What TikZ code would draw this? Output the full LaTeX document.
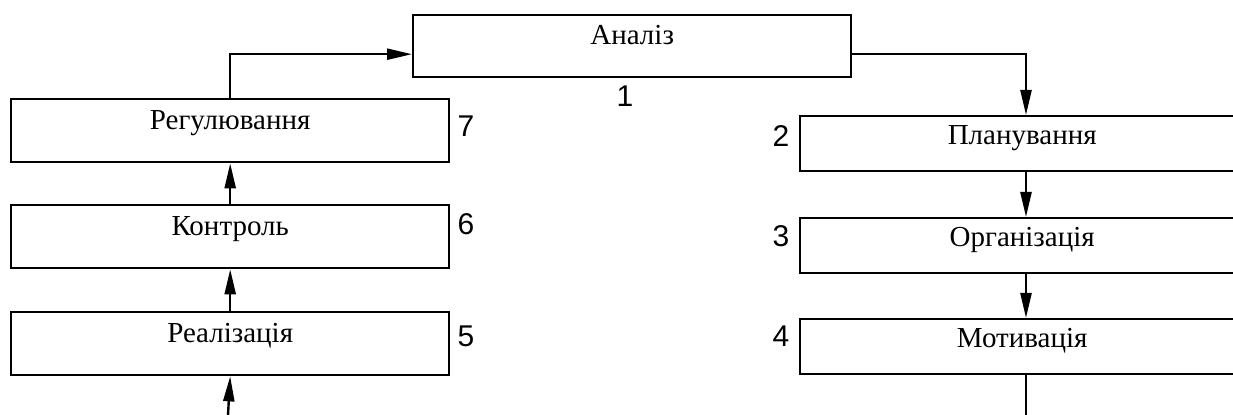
\documentclass[tikz,border=0pt]{standalone}
\usepackage{fontspec}
\setmainfont{Liberation Serif}
\newfontfamily\numfont{Liberation Sans}
\usetikzlibrary{arrows.meta,calc}
\begin{document}
\begin{tikzpicture}[x=0.5pt,y=-0.5pt,
  box/.style={draw,line width=1.2pt,anchor=north west,inner xsep=0pt,inner ysep=0pt,
    font=\fontsize{14.5}{16}\selectfont},
  lbox/.style={box,minimum width=219pt,text height=15pt,text depth=16.5pt},
  rbox/.style={box,minimum width=222pt,text height=14pt,text depth=13.5pt},
  abox/.style={box,minimum width=219pt,text height=14.5pt,text depth=16.5pt},
  num/.style={inner sep=0pt,font=\numfont\fontsize{15}{17}\selectfont},
  conn/.style={line width=1.2pt},
  arr/.style={conn,-{Triangle[length=12.5pt,width=5.5pt]}}]
\useasboundingbox (0,0) rectangle (1233,415);
\clip (0,0) rectangle (1233,415);
\node[abox] (A) at (412,14) {Аналіз};
\node[lbox] (R7) at (10,98) {Регулювання};
\node[lbox] (K6) at (10,204) {Контроль};
\node[lbox] (R5) at (10,311) {Реалізація};
\node[rbox] (P2) at (799,115) {Планування};
\node[rbox] (O3) at (799,217) {Організація};
\node[rbox] (M4) at (799,318) {Мотивація};
\node[num] (n1) at (625,96) {1};
\node[num] (n2) at (781,136) {2};
\node[num] (n3) at (781,236) {3};
\node[num] (n4) at (781,336) {4};
\node[num] (n5) at (466,336) {5};
\node[num] (n6) at (466,224) {6};
\node[num] (n7) at (466,126) {7};
\coordinate (cx) at (1026,0);
\coordinate (ain) at ($(A.west)+(0,8)$);
\coordinate (aout) at ($(A.east)+(0,8)$);
\coordinate (b1) at (228,415);
\coordinate (b2) at (1026,415);
\draw[arr] (R7.north) |- (ain);
\draw[arr] (aout) -| (P2.north -| cx);
\draw[arr] (K6.north) -- (R7.south);
\draw[arr] (R5.north) -- (K6.south);
\draw[arr] (b1) -- (R5.south);
\draw[arr] (P2.south -| cx) -- (O3.north -| cx);
\draw[arr] (O3.south -| cx) -- (M4.north -| cx);
\draw[conn] (M4.south -| cx) -- (b2);
\end{tikzpicture}
\end{document}
